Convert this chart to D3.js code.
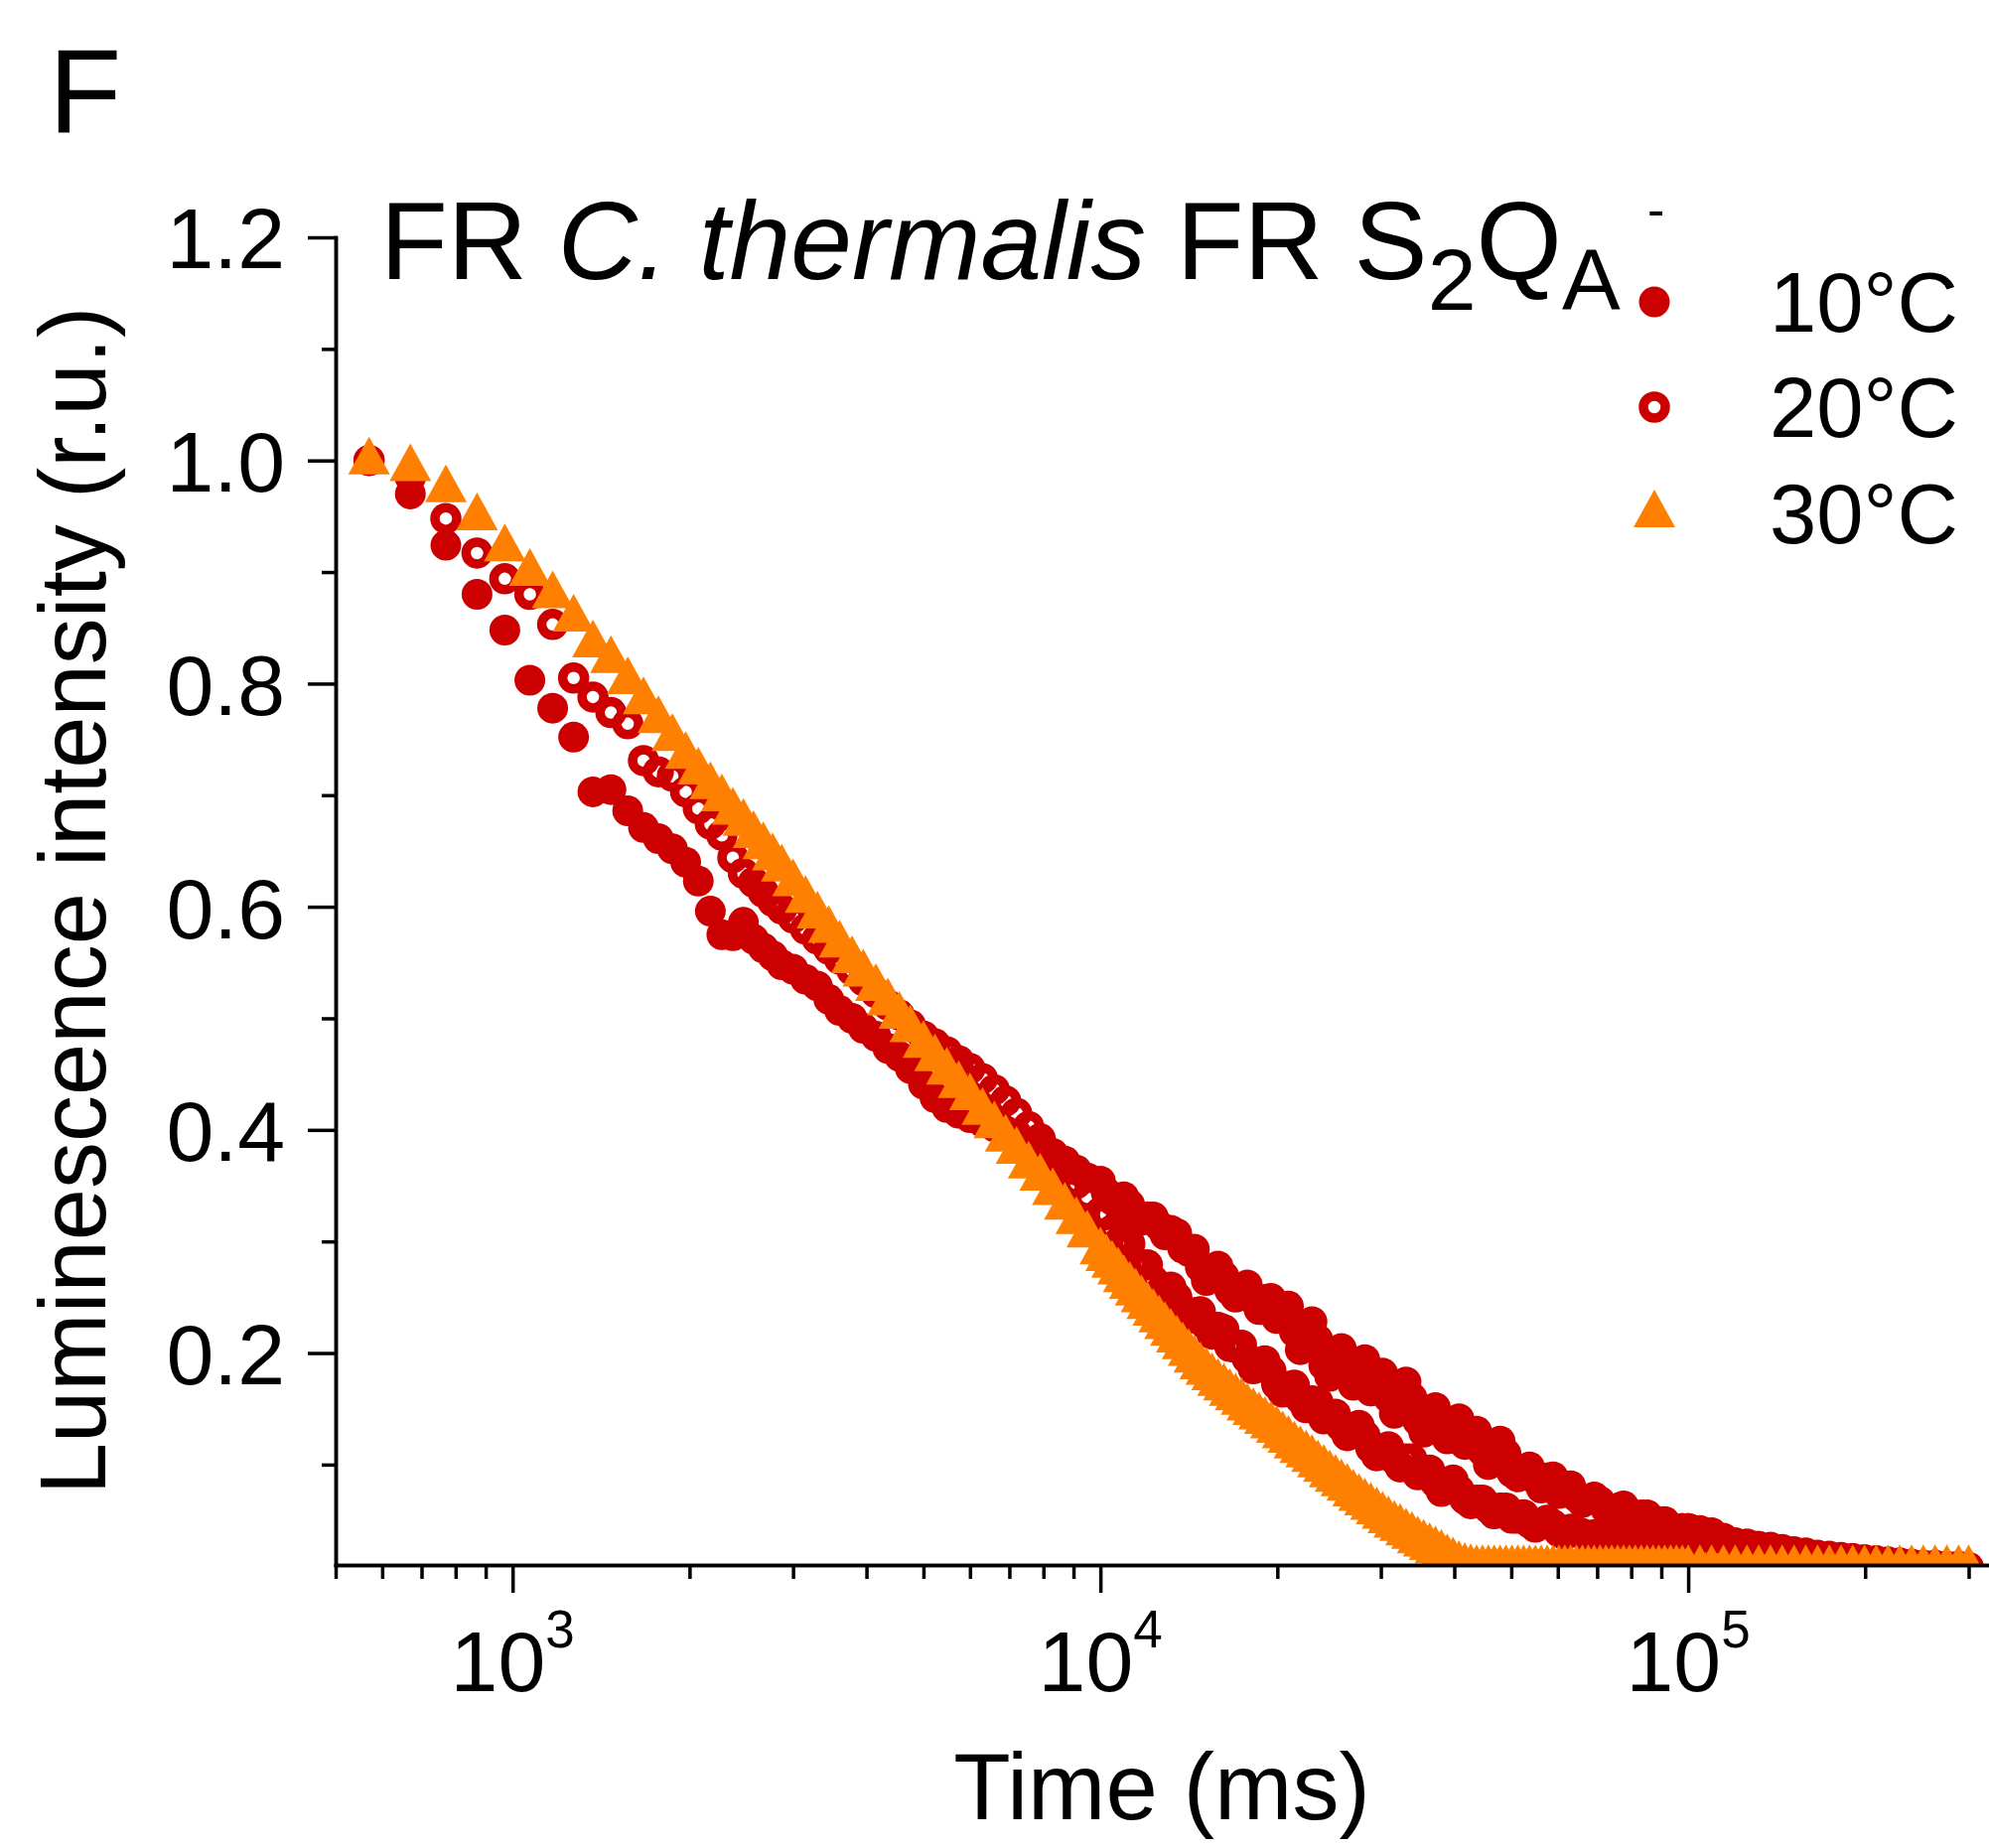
<!DOCTYPE html>
<html>
<head>
<meta charset="utf-8">
<script src="https://cdn.jsdelivr.net/npm/d3@7"></script>
<style>
  html, body { margin: 0; padding: 0; background: #ffffff; }
  svg { display: block; }
  text { font-family: "Liberation Sans", Arial, Helvetica, sans-serif; fill: #000; }
</style>
</head>
<body>
<svg id="chart" width="2003" height="1861"></svg>
<script>
// Delay time after the flash (ms); shared by all three temperatures
const timeMs = [
  570, 670, 770, 870, 970, 1070, 1170, 1270, 1370, 1470,
  1570, 1670, 1770, 1870, 1970, 2070, 2170, 2270, 2370, 2470,
  2570, 2670, 2770, 2870, 3000, 3150, 3300, 3450, 3600, 3780,
  3950, 4150, 4350, 4550, 4750, 5000, 5230, 5480, 5740, 6000,
  6300, 6600, 6900, 7200, 7550, 7900, 8300, 8700, 9100, 9500,
  10000, 10230, 10470, 10720, 10960, 11220, 11480, 11750, 12020, 12300,
  12590, 12880, 13180, 13490, 13800, 14130, 14450, 14790, 15140, 15490,
  15850, 16220, 16600, 16980, 17380, 17780, 18200, 18620, 19050, 19500,
  19950, 20420, 20890, 21380, 21880, 22390, 22910, 23440, 23990, 24550,
  25120, 25700, 26300, 26920, 27540, 28180, 28840, 29510, 30200, 30900,
  31620, 32360, 33110, 33880, 34670, 35480, 36310, 37150, 38020, 38910,
  39810, 40740, 41690, 42660, 43650, 44670, 45710, 46770, 47860, 48980,
  50120, 51290, 52480, 53700, 54950, 56230, 57540, 58880, 60260, 61660,
  63100, 64570, 66070, 67610, 69180, 70790, 72440, 74130, 75860, 77620,
  79430, 81280, 83180, 85110, 87100, 89130, 91200, 93330, 95500, 97720,
  100000,
  104700, 109600, 114800, 120200, 125900, 131800, 138000, 144500, 151400, 158500,
  166000, 173800, 182000, 190500, 199500, 208900, 218800, 229100, 239900, 251200,
  263000, 275400, 288400, 300000
];

// Normalised luminescence, 10 °C (filled circles)
const lum10 = [
  1.000, 0.970, 0.924, 0.880, 0.848, 0.803, 0.778, 0.752, 0.703, 0.705,
  0.686, 0.671, 0.661, 0.652, 0.640, 0.623, 0.596, 0.575, 0.574, 0.586,
  0.571, 0.563, 0.556, 0.548, 0.544, 0.535, 0.529, 0.517, 0.507, 0.500,
  0.491, 0.484, 0.473, 0.466, 0.455, 0.441, 0.429, 0.420, 0.415, 0.411,
  0.407, 0.403, 0.399, 0.396, 0.389, 0.384, 0.379, 0.372, 0.364, 0.357,
  0.354, 0.344, 0.337, 0.339, 0.340, 0.333, 0.324, 0.319, 0.322, 0.322,
  0.314, 0.306, 0.310, 0.307, 0.294, 0.291, 0.293, 0.277, 0.265, 0.273,
  0.278, 0.269, 0.256, 0.250, 0.258, 0.261, 0.248, 0.239, 0.248, 0.249,
  0.231, 0.232, 0.242, 0.219, 0.203, 0.219, 0.228, 0.212, 0.189, 0.179,
  0.196, 0.204, 0.184, 0.171, 0.190, 0.194, 0.166, 0.172, 0.182, 0.160,
  0.146, 0.163, 0.174, 0.160, 0.139, 0.129, 0.145, 0.151, 0.134, 0.123,
  0.138, 0.141, 0.118, 0.122, 0.130, 0.112, 0.100, 0.113, 0.121, 0.110,
  0.093, 0.089, 0.096, 0.098, 0.087, 0.079, 0.088, 0.089, 0.074, 0.076,
  0.081, 0.071, 0.066, 0.069, 0.071, 0.067, 0.060, 0.057, 0.061, 0.063,
  0.056, 0.053, 0.055, 0.055, 0.049, 0.049, 0.049, 0.044, 0.040, 0.043,
  0.043,
  0.041, 0.039, 0.034, 0.030, 0.029, 0.027, 0.026, 0.024, 0.022, 0.021,
  0.019, 0.018, 0.017, 0.016, 0.015, 0.014, 0.013, 0.012, 0.011, 0.010,
  0.010, 0.009, 0.009, 0.008
];

// Normalised luminescence, 20 °C (open circles)
const lum20 = [
  1.000, 0.985, 0.948, 0.917, 0.894, 0.880, 0.853, 0.805, 0.788, 0.774,
  0.764, 0.731, 0.721, 0.717, 0.703, 0.688, 0.674, 0.664, 0.644, 0.630,
  0.622, 0.613, 0.605, 0.598, 0.590, 0.580, 0.571, 0.562, 0.553, 0.543,
  0.534, 0.523, 0.512, 0.503, 0.494, 0.484, 0.477, 0.470, 0.462, 0.455,
  0.446, 0.436, 0.426, 0.415, 0.403, 0.392, 0.378, 0.365, 0.352, 0.340,
  0.326, 0.324, 0.310, 0.299, 0.302, 0.298, 0.281, 0.279, 0.279, 0.265,
  0.254, 0.258, 0.259, 0.250, 0.238, 0.231, 0.236, 0.237, 0.225, 0.217,
  0.223, 0.221, 0.206, 0.205, 0.207, 0.195, 0.186, 0.191, 0.193, 0.184,
  0.172, 0.165, 0.170, 0.171, 0.159, 0.151, 0.157, 0.156, 0.141, 0.142,
  0.145, 0.134, 0.126, 0.132, 0.135, 0.126, 0.115, 0.108, 0.114, 0.116,
  0.105, 0.098, 0.105, 0.105, 0.091, 0.092, 0.095, 0.084, 0.076, 0.082,
  0.086, 0.077, 0.069, 0.065, 0.068, 0.068, 0.061, 0.056, 0.061, 0.061,
  0.052, 0.052, 0.055, 0.048, 0.044, 0.047, 0.050, 0.046, 0.040, 0.037,
  0.042, 0.040, 0.038, 0.035, 0.037, 0.037, 0.033, 0.033, 0.034, 0.030,
  0.029, 0.030, 0.031, 0.029, 0.026, 0.024, 0.026, 0.026, 0.024, 0.021,
  0.024,
  0.021, 0.020, 0.019, 0.018, 0.017, 0.016, 0.015, 0.014, 0.013, 0.013,
  0.012, 0.011, 0.011, 0.010, 0.010, 0.009, 0.009, 0.008, 0.008, 0.008,
  0.007, 0.007, 0.007, 0.007
];

// Normalised luminescence, 30 °C (triangles)
const lum30 = [
  1.000, 0.994, 0.975, 0.950, 0.922, 0.900, 0.880, 0.859, 0.836, 0.822,
  0.803, 0.785, 0.768, 0.752, 0.736, 0.722, 0.709, 0.698, 0.686, 0.676,
  0.665, 0.655, 0.645, 0.635, 0.622, 0.607, 0.593, 0.580, 0.567, 0.553,
  0.541, 0.528, 0.515, 0.503, 0.491, 0.477, 0.465, 0.453, 0.441, 0.430,
  0.417, 0.405, 0.393, 0.382, 0.369, 0.358, 0.345, 0.332, 0.319, 0.307,
  0.292, 0.286, 0.280, 0.274, 0.267, 0.261, 0.255, 0.249, 0.243, 0.237,
  0.231, 0.225, 0.219, 0.213, 0.207, 0.201, 0.195, 0.189, 0.184, 0.179,
  0.174, 0.170, 0.165, 0.161, 0.157, 0.152, 0.148, 0.144, 0.140, 0.136,
  0.132, 0.127, 0.123, 0.118, 0.114, 0.110, 0.106, 0.101, 0.097, 0.092,
  0.088, 0.084, 0.080, 0.075, 0.071, 0.067, 0.063, 0.059, 0.055, 0.051,
  0.047, 0.044, 0.040, 0.037, 0.033, 0.030, 0.027, 0.024, 0.021, 0.017,
  0.014, 0.011, 0.009, 0.008, 0.007, 0.007, 0.007, 0.007, 0.007, 0.007,
  0.007, 0.007, 0.007, 0.007, 0.007, 0.007, 0.007, 0.007, 0.007, 0.007,
  0.007, 0.007, 0.007, 0.007, 0.007, 0.007, 0.007, 0.007, 0.007, 0.007,
  0.007, 0.007, 0.007, 0.007, 0.007, 0.007, 0.007, 0.007, 0.007, 0.007,
  0.007,
  0.007, 0.007, 0.007, 0.007, 0.007, 0.007, 0.007, 0.007, 0.007, 0.007,
  0.007, 0.007, 0.007, 0.007, 0.007, 0.007, 0.007, 0.007, 0.007, 0.007,
  0.007, 0.007, 0.007, 0.007
];

const seriesLabels = ["10°C", "20°C", "30°C"];
const yTickValues = [0.2, 0.4, 0.6, 0.8, 1.0, 1.2];
const yMinorTicks = [0.1, 0.3, 0.5, 0.7, 0.9, 1.1];
const xMajorTicks = [1e3, 1e4, 1e5];
const xMinorTicks = [500, 600, 700, 800, 900,
  2000, 3000, 4000, 5000, 6000, 7000, 8000, 9000,
  20000, 30000, 40000, 50000, 60000, 70000, 80000, 90000,
  200000, 300000];

const RED = "#cc0000";
const ORANGE = "#ff8000";

const svg = d3.select("#chart");
const plot = { left: 338, right: 2007, top: 239, bottom: 1576 };

const x = d3.scaleLog().domain([500, 330000]).range([plot.left, plot.right]);
const y = d3.scaleLinear().domain([0.01, 1.2]).range([plot.bottom, plot.top]);

// markers are clipped to the frame, so the bottom row sits on the axis
svg.append("defs").append("clipPath").attr("id", "frame")
  .append("rect")
  .attr("x", plot.left).attr("y", 0)
  .attr("width", 2003 - plot.left).attr("height", plot.bottom);

const triPath = "M0,-24L21,14L-21,14Z";
const DOT_R = 15.5;
const RING_R = 11, RING_W = 9.5;

const makeRows = vals => timeMs.map((t, i) => ({ t: t, v: vals[i] }));

const marks = svg.append("g").attr("clip-path", "url(#frame)");

// 10 °C filled circles
marks.append("g").selectAll("circle").data(makeRows(lum10)).join("circle")
  .attr("cx", d => x(d.t)).attr("cy", d => y(d.v)).attr("r", DOT_R)
  .attr("fill", RED);

// 20 °C open circles
marks.append("g").selectAll("circle").data(makeRows(lum20)).join("circle")
  .attr("cx", d => x(d.t)).attr("cy", d => y(d.v)).attr("r", RING_R)
  .attr("fill", "none").attr("stroke", RED).attr("stroke-width", RING_W);

// 30 °C triangles
marks.append("g").selectAll("path").data(makeRows(lum30)).join("path")
  .attr("d", triPath)
  .attr("transform", d => `translate(${x(d.t)},${y(d.v)})`)
  .attr("fill", ORANGE);

// ---- axes ----
const AX_W = 3.5;
function styleAxis(g) {
  g.selectAll("path.domain").attr("stroke", "#000").attr("stroke-width", AX_W)
    .attr("stroke-linecap", "square");
  g.selectAll(".tick line").attr("stroke", "#000").attr("stroke-width", AX_W);
}

// x minor ticks
svg.append("g").attr("transform", `translate(0,${plot.bottom})`)
  .call(d3.axisBottom(x).tickValues(xMinorTicks).tickSize(14).tickSizeOuter(0).tickFormat(""))
  .call(styleAxis);
// x major ticks + axis line
svg.append("g").attr("transform", `translate(0,${plot.bottom})`)
  .call(d3.axisBottom(x).tickValues(xMajorTicks).tickSize(28).tickSizeOuter(0).tickFormat(""))
  .call(styleAxis);

// x tick labels as powers of ten
xMajorTicks.forEach(v => {
  const t = svg.append("text")
    .attr("x", x(v)).attr("y", 1703)
    .attr("text-anchor", "middle")
    .attr("font-size", 86);
  t.append("tspan").text("10");
  t.append("tspan").attr("font-size", 53).attr("dy", -44).text(String(Math.round(Math.log10(v))));
});

// y minor ticks
svg.append("g").attr("transform", `translate(${plot.left},0)`)
  .call(d3.axisLeft(y).tickValues(yMinorTicks).tickSize(14).tickSizeOuter(0).tickFormat(""))
  .call(styleAxis);
// y major ticks, labels, axis line
const yg = svg.append("g").attr("transform", `translate(${plot.left},0)`)
  .call(d3.axisLeft(y).tickValues(yTickValues).tickSize(28).tickSizeOuter(0)
    .tickPadding(23).tickFormat(d3.format(".1f")))
  .call(styleAxis);
yg.attr("font-size", null).attr("font-family", null);
yg.selectAll(".tick text").attr("font-size", 86).attr("dy", "0.36em").attr("fill", "#000");

// axis titles
svg.append("text")
  .attr("x", 1170).attr("y", 1832)
  .attr("text-anchor", "middle").attr("font-size", 94)
  .text("Time (ms)");

svg.append("text")
  .attr("transform", "translate(106,907) rotate(-90)")
  .attr("text-anchor", "middle").attr("font-size", 94)
  .text("Luminescence intensity (r.u.)");

// panel letter
svg.append("text").attr("x", 49).attr("y", 134).attr("font-size", 120).text("F");

// title with italic species name and sub/superscripts
const title = svg.append("text").attr("x", 383).attr("y", 281).attr("font-size", 111);
title.append("tspan").text("FR ");
title.append("tspan").attr("font-style", "italic").text("C. thermalis");
title.append("tspan").text(" FR S");
title.append("tspan").attr("font-size", 88).attr("dy", 31).text("2");
title.append("tspan").attr("font-size", 111).attr("dy", -31).text("Q");
title.append("tspan").attr("font-size", 88).attr("dy", 31).text("A");
title.append("tspan").attr("font-size", 52).attr("x", 1659).attr("y", 229).text("-");

// legend
const legendRows = [
  { label: seriesLabels[0], y: 304, kind: "filled" },
  { label: seriesLabels[1], y: 410, kind: "open" },
  { label: seriesLabels[2], y: 517, kind: "tri" }
];
const lg = svg.append("g");
legendRows.forEach(r => {
  if (r.kind === "filled") {
    lg.append("circle").attr("cx", 1666).attr("cy", r.y).attr("r", DOT_R).attr("fill", RED);
  } else if (r.kind === "open") {
    lg.append("circle").attr("cx", 1666).attr("cy", r.y).attr("r", RING_R)
      .attr("fill", "none").attr("stroke", RED).attr("stroke-width", RING_W);
  } else {
    lg.append("path").attr("d", triPath).attr("transform", `translate(1666,${r.y})`).attr("fill", ORANGE);
  }
  lg.append("text").attr("x", 1782).attr("y", r.y + 30).attr("font-size", 85).text(r.label);
});
</script>
</body>
</html>
